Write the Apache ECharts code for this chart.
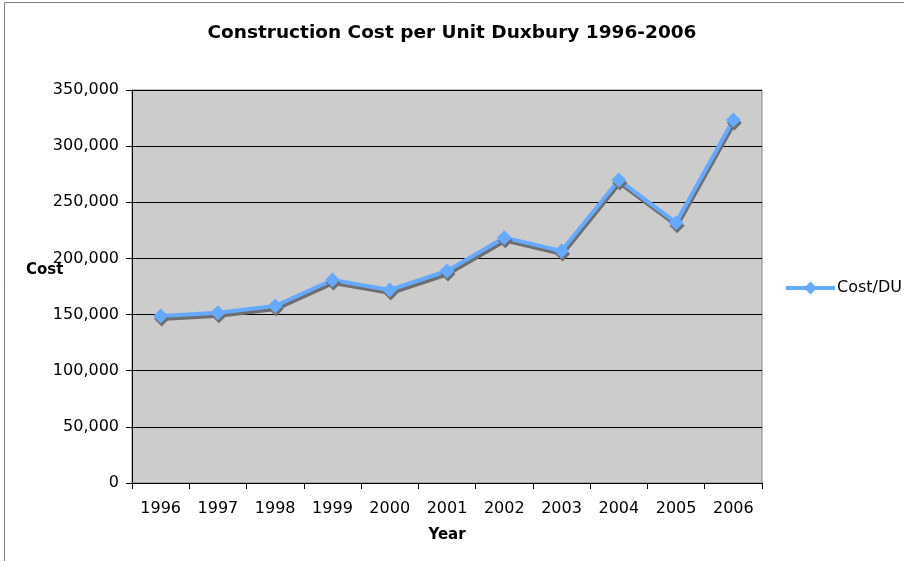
<!DOCTYPE html>
<html>
<head>
<meta charset="utf-8">
<script src="https://cdn.jsdelivr.net/npm/echarts@6/dist/echarts.min.js"></script>
<style>html,body{margin:0;padding:0;background:#fff;}#c{width:904px;height:561px;}</style>
</head>
<body>
<div id="c"></div>
<script>
var years = ['1996','1997','1998','1999','2000','2001','2002','2003','2004','2005','2006'];
var costPerDU = [148700, 151700, 157600, 180800, 171900, 188800, 218500, 206600, 269800, 231800, 323300];
var seriesName = 'Cost/DU';
var titleText = 'Construction Cost per Unit Duxbury 1996-2006';

var font = 'DejaVu Sans, Verdana, sans-serif';
var chart = echarts.init(document.getElementById('c'), null, {renderer: 'canvas'});
chart.setOption({
  animation: false,
  backgroundColor: '#ffffff',
  title: {
    text: titleText,
    left: 'center',
    top: 24,
    padding: 0,
    textStyle: {fontFamily: font, fontSize: 18.5, fontWeight: 'bold', color: '#000'}
  },
  legend: {
    data: [seriesName],
    orient: 'vertical',
    left: 784,
    top: 280,
    padding: 0,
    itemWidth: 49,
    itemHeight: 16,
    lineStyle: {width: 4},
    textStyle: {fontFamily: font, fontSize: 16, color: '#000', padding: [0,0,0,-3]}
  },
  graphic: [
    {type: 'rect', shape: {x: 4.5, y: 2.5, width: 1000, height: 1000}, style: {fill: 'none', stroke: '#808080', lineWidth: 1}, silent: true},
    {type: 'text', left: 26, top: 263, style: {text: 'Cost', font: 'bold 15px DejaVu Sans', fill: '#000'}}
  ],
  grid: {left: 132, right: 142, top: 90, bottom: 78, show: true, backgroundColor: '#cccccc', borderColor: '#808080', borderWidth: 1},
  xAxis: {
    type: 'category',
    data: years,
    boundaryGap: true,
    name: 'Year',
    nameLocation: 'middle',
    nameGap: 45,
    nameTextStyle: {fontFamily: font, fontSize: 15, fontWeight: 'bold', color: '#000'},
    axisLine: {lineStyle: {color: '#000', width: 1}},
    axisTick: {show: true, length: 6, inside: false, lineStyle: {color: '#000'}},
    axisLabel: {fontFamily: font, fontSize: 16, color: '#000', margin: 18},
    splitLine: {show: false}
  },
  yAxis: {
    type: 'value',
    min: 0,
    max: 350000,
    interval: 50000,
    axisLine: {show: true, lineStyle: {color: '#000', width: 1}},
    axisTick: {show: true, length: 6, lineStyle: {color: '#000'}},
    axisLabel: {fontFamily: font, fontSize: 16, color: '#000', margin: 13,
      formatter: function (v) { return v.toLocaleString('en-US'); }},
    splitLine: {show: true, lineStyle: {color: '#000', width: 1}}
  },
  series: [{
    name: seriesName,
    type: 'line',
    data: costPerDU,
    symbol: 'diamond',
    symbolSize: 15,
    lineStyle: {color: '#66aaff', width: 4, shadowColor: 'rgba(110,110,110,1)', shadowBlur: 0, shadowOffsetX: 1, shadowOffsetY: 3},
    itemStyle: {color: '#66aaff', borderWidth: 0, shadowColor: 'rgba(110,110,110,1)', shadowBlur: 0, shadowOffsetX: 1, shadowOffsetY: 3}
  }]
});
</script>
</body>
</html>
